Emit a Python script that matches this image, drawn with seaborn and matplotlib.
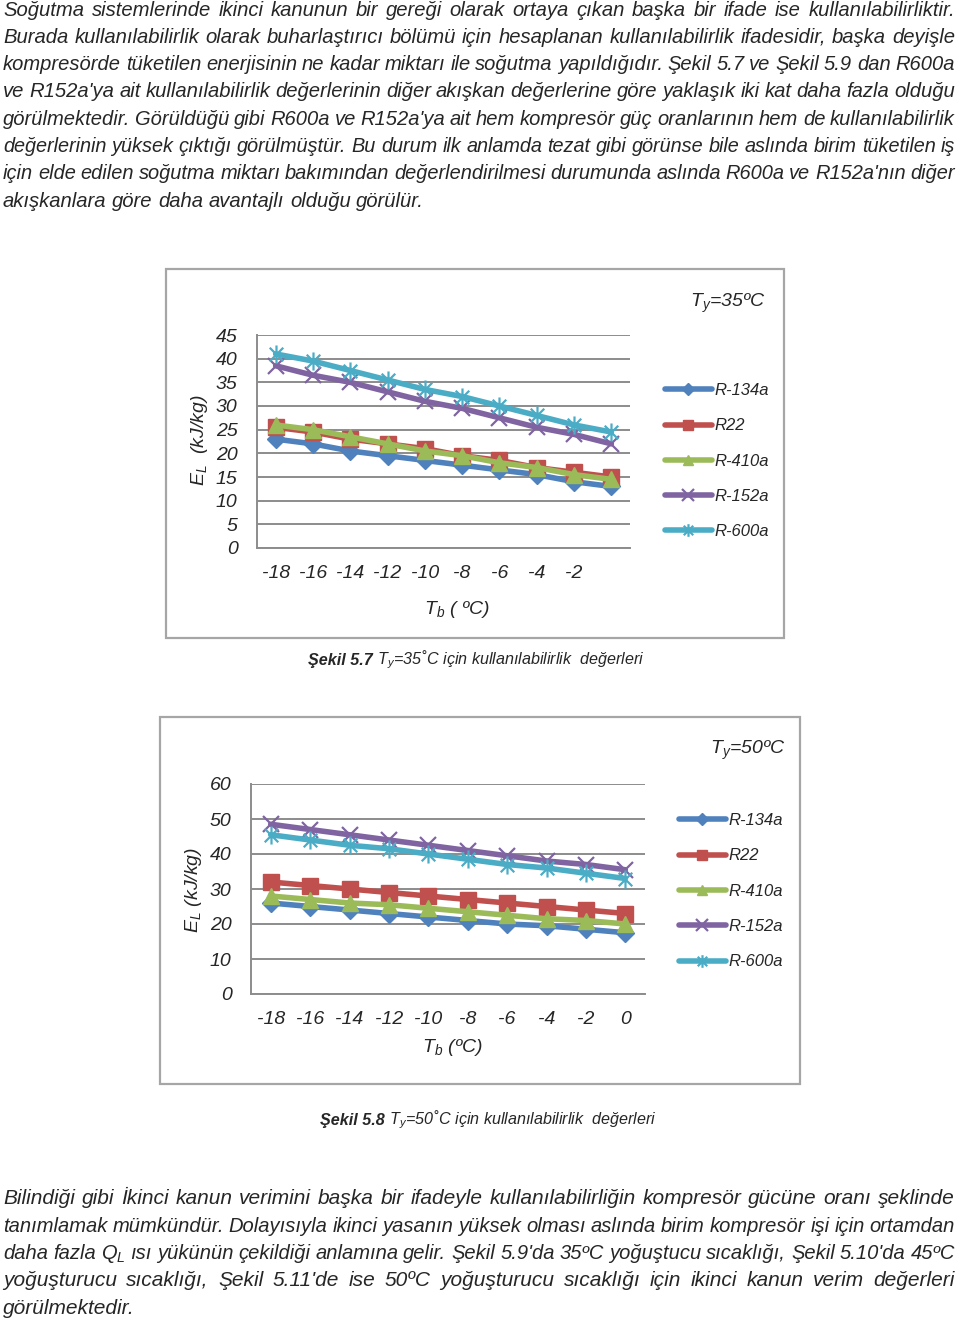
import numpy as np
import matplotlib
matplotlib.use('Agg')
import matplotlib.pyplot as plt
import seaborn as sns
from matplotlib import font_manager
from matplotlib.patches import Rectangle
from matplotlib.lines import Line2D
from matplotlib.path import Path

sns.set_style('white')
installed = {f.name for f in font_manager.fontManager.ttflist}
FONT = 'Liberation Sans Narrow' if 'Liberation Sans Narrow' in installed else 'Liberation Sans'
plt.rcParams['font.family'] = [FONT, 'DejaVu Sans']
plt.rcParams['mathtext.fontset'] = 'custom'

# data
refrigerants = ['R-134a', 'R22', 'R-410a', 'R-152a', 'R-600a']
tb_labels_35 = ['-18', '-16', '-14', '-12', '-10', '-8', '-6', '-4', '-2', '']
tb_labels_50 = ['-18', '-16', '-14', '-12', '-10', '-8', '-6', '-4', '-2', '0']

r134a_35 = [23.0, 22.0, 20.5, 19.5, 18.5, 17.5, 16.5, 15.5, 14.0, 13.0]
r22_35 = [25.5, 24.5, 23.0, 22.0, 21.0, 19.5, 18.5, 17.0, 16.0, 15.0]
r410a_35 = [26.0, 25.0, 23.5, 22.0, 20.5, 19.5, 18.0, 17.0, 15.5, 14.5]
r152a_35 = [38.5, 36.5, 35.0, 33.0, 31.0, 29.5, 27.5, 25.5, 24.0, 22.0]
r600a_35 = [41.0, 39.5, 37.5, 35.5, 33.5, 32.0, 30.0, 28.0, 26.0, 24.5]

r134a_50 = [26.0, 25.0, 24.0, 23.0, 22.0, 21.0, 20.0, 19.5, 18.5, 17.5]
r22_50 = [32.0, 31.0, 30.0, 29.0, 28.0, 27.0, 26.0, 25.0, 24.0, 23.0]
r410a_50 = [28.0, 27.0, 26.0, 25.5, 24.5, 23.5, 22.5, 21.5, 21.0, 20.0]
r152a_50 = [48.5, 47.0, 45.5, 44.0, 42.5, 41.0, 39.5, 38.0, 37.0, 35.5]
r600a_50 = [45.5, 44.0, 42.5, 41.5, 40.0, 38.5, 37.0, 36.0, 34.5, 33.0]

yticks_35 = [0, 5, 10, 15, 20, 25, 30, 35, 40, 45]
yticks_50 = [0, 10, 20, 30, 40, 50, 60]

top_lines = [
    "Soğutma sistemlerinde ikinci kanunun bir gereği olarak ortaya çıkan başka bir ifade ise kullanılabilirliktir.",
    "Burada kullanılabilirlik olarak buharlaştırıcı bölümü için hesaplanan kullanılabilirlik ifadesidir, başka deyişle",
    "kompresörde tüketilen enerjisinin ne kadar miktarı ile soğutma yapıldığıdır. Şekil 5.7 ve Şekil 5.9 dan R600a",
    "ve R152a'ya ait kullanılabilirlik değerlerinin diğer akışkan değerlerine göre yaklaşık iki kat daha fazla olduğu",
    "görülmektedir. Görüldüğü gibi R600a ve R152a'ya ait hem kompresör güç oranlarının hem de kullanılabilirlik",
    "değerlerinin yüksek çıktığı görülmüştür. Bu durum ilk anlamda tezat gibi görünse bile aslında birim tüketilen iş",
    "için elde edilen soğutma miktarı bakımından değerlendirilmesi durumunda aslında R600a ve R152a'nın diğer",
    "akışkanlara göre daha avantajlı olduğu görülür.",
]
bottom_lines = [
    "Bilindiği gibi İkinci kanun verimini başka bir ifadeyle kullanılabilirliğin kompresör gücüne oranı şeklinde",
    "tanımlamak mümkündür. Dolayısıyla ikinci yasanın yüksek olması aslında birim kompresör işi için ortamdan",
    r"daha fazla Q$_\mathregular{L}$ ısı yükünün çekildiği anlamına gelir. Şekil 5.9'da 35ºC yoğuştucu sıcaklığı, Şekil 5.10'da 45ºC",
    "yoğuşturucu sıcaklığı, Şekil 5.11'de ise 50ºC yoğuşturucu sıcaklığı için ikinci kanun verim değerleri",
    "görülmektedir.",
]

W, H = 960, 1323
colors = ['#4F81BD', '#C0504D', '#9BBB59', '#8064A2', '#4BACC6']
star = Path([(0, -1), (0, 1), (-0.75, -0.75), (0.75, 0.75), (-0.75, 0.75), (0.75, -0.75)],
            [Path.MOVETO, Path.LINETO] * 3)
markers = ['D', 's', '^', 'x', star]
msizes = [9, 11, 11, 12, 13]
mews = [1, 1, 1, 1.6, 1.6]
GRID = '#8c8c8c'

fig = plt.figure(figsize=(W / 100, H / 100), dpi=100)
renderer = fig.canvas.get_renderer()


def fx(px):
    return px / W


def fy(py):
    return 1 - py / H


def text_width(s, size, **kw):
    t = fig.text(0, 0, s, fontsize=size, style='italic', **kw)
    w = t.get_window_extent(renderer).width
    t.remove()
    return w


def put_lines(lines, y0, step, size):
    span = 952
    for i, line in enumerate(lines):
        words = line.split()
        last = i == len(lines) - 1
        sp = text_width('a a', size) - text_width('aa', size)
        widths = [text_width(w, size) for w in words]
        fs = size
        need = sum(widths) + (len(words) - 1) * 0.9 * sp
        if need > span and not last:
            fs = size * span / need
            widths = [text_width(w, fs) for w in words]
        gap = sp if last else (span - sum(widths)) / max(len(words) - 1, 1)
        x = 3
        for w, wd in zip(words, widths):
            fig.text(fx(x), fy(y0 + i * step), w, fontsize=fs, style='italic', va='center', ha='left')
            x += wd + gap


def caption(bold, rest, xc, y, size=11.6):
    t1 = fig.text(0, fy(y), bold, fontsize=size, style='italic', weight='bold', va='center')
    t2 = fig.text(0, fy(y), rest, fontsize=size, style='italic', va='center')
    w1 = t1.get_window_extent(renderer).width
    w2 = t2.get_window_extent(renderer).width
    x0 = xc - (w1 + w2) / 2
    t1.set_x(fx(x0))
    t2.set_x(fx(x0 + w1))


def chart(frame, box, series, yticks, xlabels, ty, ty_pos, leg_pos, xlab, xlab_pos, ylab, ylab_pos):
    fx0, fy0, fx1, fy1 = frame
    fig.add_artist(Rectangle((fx(fx0), fy(fy1)), fx(fx1 - fx0), (fy1 - fy0) / H,
                             transform=fig.transFigure, fill=False, edgecolor='#a6a6a6', lw=1.6))
    left, top, right, bottom = box
    ax = fig.add_axes([fx(left), fy(bottom), fx(right - left), (bottom - top) / H])
    pos = np.arange(len(xlabels))
    handles = []
    for name, vals, c, m, ms, mew in zip(refrigerants, series, colors, markers, msizes, mews):
        sns.lineplot(x=pos, y=vals, ax=ax, color=c, marker=m, markersize=ms, linewidth=4,
                     markeredgecolor=c, markeredgewidth=mew, legend=False)
        handles.append(Line2D([], [], color=c, marker=m, markersize=ms * 0.7, lw=4,
                              markeredgecolor=c, markeredgewidth=mew))
    ax.set_xlim(-0.5, len(xlabels) - 0.5)
    ax.set_ylim(yticks[0], yticks[-1])
    ax.set_yticks(yticks)
    ax.set_xticks(pos)
    ax.set_xticklabels(xlabels)
    ax.yaxis.grid(True, color=GRID, lw=1.4)
    ax.xaxis.grid(False)
    ax.set_axisbelow(True)
    for s in ['top', 'right']:
        ax.spines[s].set_visible(False)
    for s in ['left', 'bottom']:
        ax.spines[s].set_color(GRID)
        ax.spines[s].set_linewidth(1.4)
    ax.tick_params(axis='y', length=5, width=1.2, color=GRID, pad=9, labelsize=14)
    ax.tick_params(axis='x', length=0, pad=12, labelsize=14)
    for lab in ax.get_xticklabels() + ax.get_yticklabels():
        lab.set_style('italic')
    ax.patch.set_alpha(0)
    ax.set_xlabel(xlab, fontsize=14, style='italic')
    ax.xaxis.label.set_va('center')
    ax.xaxis.set_label_coords((xlab_pos[0] - left) / (right - left), (bottom - xlab_pos[1]) / (bottom - top))
    ax.set_ylabel(ylab, fontsize=14, style='italic')
    ax.yaxis.label.set_va('center')
    ax.yaxis.set_label_coords((ylab_pos[0] - left) / (right - left), (bottom - ylab_pos[1]) / (bottom - top))
    fig.text(fx(ty_pos[0]), fy(ty_pos[1]), ty, fontsize=14, style='italic', ha='center', va='center')
    fig.legend(handles, refrigerants, loc='upper left', bbox_to_anchor=(fx(leg_pos[0]), fy(leg_pos[1])),
               frameon=False, handlelength=2.8, handletextpad=0.15,
               labelspacing=1.22, borderpad=0, borderaxespad=0, prop={'style': 'italic', 'size': 12})


put_lines(top_lines, 10, 27.3, 14.6)

chart((166, 269, 784, 638), (257, 335, 630, 548),
      [r134a_35, r22_35, r410a_35, r152a_35, r600a_35], yticks_35, tb_labels_35,
      r"T$_\mathregular{y}$=35ºC", (728, 303), (665, 383),
      r"T$_\mathregular{b}$ ( ºC)", (457, 609), r"E$_\mathregular{L}$  (kJ/kg)", (200, 440))
caption("Şekil 5.7", " T$_\\mathregular{y}$=35˚C için kullanılabilirlik  değerleri", 476, 660)

chart((160, 717, 800, 1084), (251, 784, 645, 994),
      [r134a_50, r22_50, r410a_50, r152a_50, r600a_50], yticks_50, tb_labels_50,
      r"T$_\mathregular{y}$=50ºC", (748, 750), (679, 813),
      r"T$_\mathregular{b}$ (ºC)", (452, 1047), r"E$_\mathregular{L}$ (kJ/kg)", (193, 890))
caption("Şekil 5.8", " T$_\\mathregular{y}$=50˚C için kullanılabilirlik  değerleri", 488, 1120)

put_lines(bottom_lines, 1199, 27.3, 15.0)

fig.savefig('out.png', dpi=100)
